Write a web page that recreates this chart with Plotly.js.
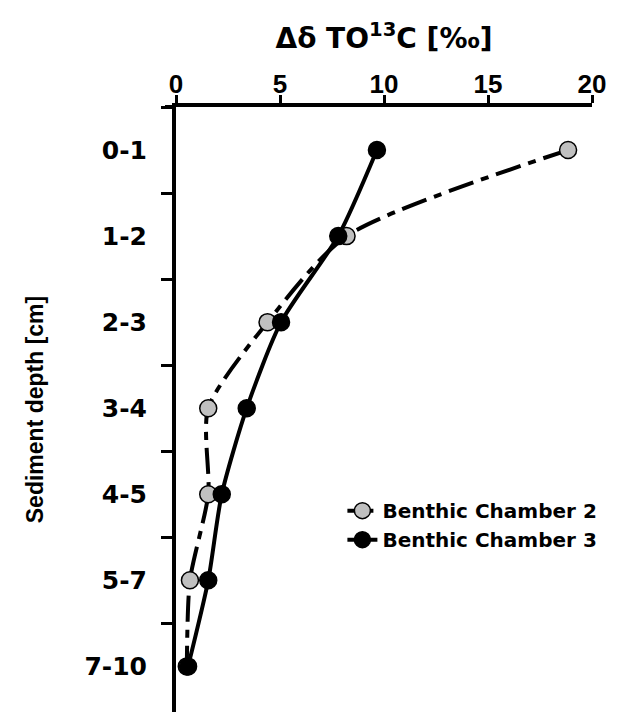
<!DOCTYPE html>
<html>
<head>
<meta charset="utf-8">
<script src="https://cdn.plot.ly/plotly-3.0.1.min.js"></script>
<style>
  html, body { margin: 0; padding: 0; background: #fff; }
  #chart { width: 635px; height: 713px; }
</style>
</head>
<body>
<div id="chart"></div>
<script>
const depthCategories = ["0-1", "1-2", "2-3", "3-4", "4-5", "5-7", "7-10"];
const chamber2Values = [18.85, 8.2, 4.4, 1.55, 1.55, 0.67, 0.52];
const chamber3Values = [9.66, 7.8, 5.05, 3.4, 2.2, 1.55, 0.58];
const seriesNames = ["Benthic Chamber 2", "Benthic Chamber 3"];
const xTickValues = [0, 5, 10, 15, 20];

const boldWide = "DejaVu Sans, Verdana, sans-serif";
const boldArial = "Liberation Sans, Arial, sans-serif";

const traces = [
  {
    x: chamber2Values,
    y: depthCategories,
    name: seriesNames[0],
    type: "scatter",
    mode: "lines+markers",
    line: { color: "#000", width: 4, dash: "26px,8px,8px,8px", shape: "spline", smoothing: 0.7 },
    marker: { symbol: "circle", size: 17, color: "#c0c0c0", line: { color: "#000", width: 1.5 } }
  },
  {
    x: chamber3Values,
    y: depthCategories,
    name: seriesNames[1],
    type: "scatter",
    mode: "lines+markers",
    line: { color: "#000", width: 4, shape: "spline", smoothing: 0.7 },
    marker: { symbol: "circle", size: 17, color: "#000", line: { color: "#000", width: 1.5 } }
  }
];

const layout = {
  width: 635,
  height: 713,
  margin: { l: 176, r: 43, t: 107, b: 1 },
  paper_bgcolor: "#fff",
  plot_bgcolor: "rgba(0,0,0,0)",
  showlegend: true,
  title: {
    text: "Δδ TO<sup>13</sup>C [‰]",
    font: { family: boldWide, size: 28, color: "#000", weight: "bold" },
    x: 0.5, xref: "paper", xanchor: "center",
    y: 1 - 38 / 713, yref: "container", yanchor: "middle"
  },
  xaxis: {
    side: "top",
    range: [0, 20],
    tickvals: xTickValues,
    ticktext: xTickValues.map(String),
    ticks: "outside",
    ticklen: 8,
    tickwidth: 3,
    tickcolor: "#000",
    showline: true,
    linewidth: 4,
    linecolor: "#000",
    showgrid: false,
    zeroline: false,
    tickfont: { family: boldArial, size: 26, color: "#000", weight: "bold" },
    ticklabelstandoff: -8
  },
  yaxis: {
    type: "category",
    categoryorder: "array",
    categoryarray: depthCategories,
    range: [6.53, -0.5],
    tickson: "boundaries",
    ticks: "outside",
    ticklen: 11,
    tickwidth: 3,
    tickcolor: "#000",
    showline: true,
    linewidth: 4,
    linecolor: "#000",
    showgrid: false,
    zeroline: false,
    tickfont: { family: boldWide, size: 25, color: "#000", weight: "bold" },
    ticklabelstandoff: 20,
    title: {
      text: "Sediment depth [cm]",
      font: { family: boldArial, size: 23, color: "#000", weight: "bold" },
      standoff: 35
    }
  },
  legend: {
    x: 0.4, xanchor: "left",
    y: 0.365, yanchor: "top",
    bgcolor: "rgba(0,0,0,0)",
    font: { family: boldWide, size: 20, color: "#000", weight: "bold" },
    tracegroupgap: 0,
    itemwidth: 30
  },
  shapes: [
    { type: "line", xref: "paper", yref: "paper", x0: -11 / 416, x1: 0, y0: 1, y1: 1,
      line: { color: "#000", width: 4 } }
  ]
};

Plotly.newPlot("chart", traces, layout, { displayModeBar: false, staticPlot: true });
</script>
</body>
</html>
